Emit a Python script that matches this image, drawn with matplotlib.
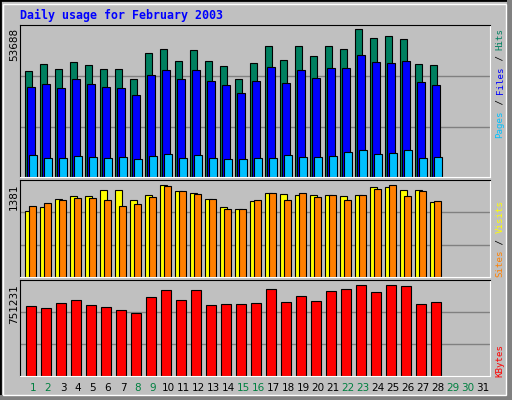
import matplotlib
matplotlib.use('Agg')
import matplotlib.pyplot as plt
from matplotlib.patches import Rectangle
import numpy as np

# Daily values for February 2003
days = list(range(1, 29))
hits = [37690, 40170, 38390, 40880, 39820, 38390, 38390, 34840, 44080, 45500, 41240, 45150, 41240, 39460,
        34840, 40530, 46570, 41590, 46570, 43020, 46570, 45500, 52610, 49410, 50120, 49060, 40170, 39820]
files = [32000, 33060, 31640, 34840, 33060, 32000, 31640, 29150, 36260, 38040, 34840, 38040, 34130, 32710,
         29860, 34130, 39100, 33420, 38040, 35190, 38750, 38750, 43370, 40880, 40530, 41240, 33770, 32710]
pages = [7820, 6750, 6750, 7470, 7110, 6750, 7110, 6400, 7470, 8180, 6750, 7820, 6750, 6400,
         6400, 6750, 6750, 7820, 7110, 7110, 7470, 8890, 9600, 8180, 8530, 9600, 6750, 7110]
visits = [945, 1003, 1116, 1149, 1149, 1245, 1245, 1102, 1163, 1316, 1230, 1202, 1116, 1003,
          974, 1088, 1202, 1188, 1173, 1163, 1163, 1159, 1173, 1287, 1287, 1245, 1245, 1074]
sites = [1017, 1059, 1102, 1131, 1131, 1102, 1017, 1045, 1145, 1302, 1230, 1188, 1116, 974,
         974, 1102, 1202, 1102, 1202, 1145, 1173, 1102, 1173, 1259, 1316, 1159, 1230, 1088]
kbytes = [552600, 536900, 576200, 599700, 560500, 544800, 521200, 497700, 623300, 678200, 599700, 678200,
          560500, 568300, 568300, 576200, 686100, 584000, 631100, 591900, 670400, 686100, 717500, 662500,
          717500, 709600, 568300, 584000]
weekend = [1, 2, 8, 9, 15, 16, 22, 23, 29, 30]
max_hits, max_visits, max_kb = 53688, 1381, 751231

W, H = 512, 400
BG = '#C0C0C0'
fig = plt.figure(figsize=(W / 100, H / 100), dpi=100, facecolor=BG)
mono = 'DejaVu Sans Mono'

def px_axes(x0, y0, x1, y1):
    return fig.add_axes([x0 / W, 1 - y1 / H, (x1 - x0) / W, (y1 - y0) / H])

# outer frame
fig.patches.append(Rectangle((0, 0), 1, 1, transform=fig.transFigure, fill=False, ec='black', lw=2))
fig.patches.append(Rectangle((1 - 5 / W, 0), 5 / W, 1, transform=fig.transFigure, fc='#808080', ec='none'))
fig.patches.append(Rectangle((0, 0), 1, 5 / H, transform=fig.transFigure, fc='#808080', ec='none'))
fig.patches.append(Rectangle((3 / W, 5 / H), 1 - 9 / W, 1 - 9 / H, transform=fig.transFigure,
                             fill=False, ec='white', lw=1))

fig.text(20 / W, 1 - 15 / H, 'Daily usage for February 2003', color='#0000FF', family=mono,
         weight='bold', fontsize=8.4, va='center', ha='left')

x = np.array(days)
XL = (0.267, 31.6)

def setup(ax, top):
    ax.set_facecolor(BG)
    ax.set_xlim(*XL)
    ax.set_ylim(0, top)
    ax.set_xticks([])
    ax.set_yticks([])
    for s in ('left', 'top'):
        ax.spines[s].set_color('black')
    for s in ('right', 'bottom'):
        ax.spines[s].set_color('white')

def grid(ax, mx):
    for f in (1 / 3, 2 / 3):
        ax.axhline(mx * f, color='#808080', lw=1, zorder=0)

bar_kw = dict(align='edge', edgecolor='black', linewidth=0.8, zorder=2)

ax1 = px_axes(20, 25, 490, 177)
setup(ax1, max_hits * 152 / 151)
grid(ax1, max_hits)
ax1.bar(x - 0.38, hits, 0.47, color='#008060', **bar_kw)
ax1.bar(x - 0.27, files, 0.51, color='#0000FF', **bar_kw)
ax1.bar(x - 0.13, pages, 0.51, color='#00C0FF', **bar_kw)

ax2 = px_axes(20, 180, 490, 277)
setup(ax2, max_visits)
grid(ax2, max_visits)
ax2.bar(x - 0.38, visits, 0.47, color='#FFFF00', **bar_kw)
ax2.bar(x - 0.11, sites, 0.47, color='#FF8000', **bar_kw)

ax3 = px_axes(20, 280, 490, 376)
setup(ax3, max_kb * 96 / 95.7)
grid(ax3, max_kb)
ax3.bar(x - 0.31, kbytes, 0.67, color='#FF0000', **bar_kw)

# max value labels on the left
for val, ytop in ((max_hits, 28), (max_visits, 183), (max_kb, 284)):
    fig.text(14 / W, 1 - ytop / H, str(val), rotation=90, ha='center', va='top', fontsize=7.5, color='black')

# right side legends, drawn piece by piece upward
def side_label(parts, ybottom):
    cw = 5.5
    y = ybottom
    for txt, col in parts:
        fig.text(500 / W, 1 - y / H, txt, rotation=90, ha='center', va='bottom', family=mono,
                 fontsize=6.6, color=col)
        y -= cw * len(txt)

side_label([('Pages', '#00C0FF'), (' / ', 'black'), ('Files', '#0000FF'), (' / ', 'black'),
            ('Hits', '#008060')], 138)
side_label([('Sites', '#FF8000'), (' / ', 'black'), ('Visits', '#FFFF00')], 277)
side_label([('KBytes', '#FF0000')], 377)

# day labels
for d in range(1, 32):
    xp = 33 + 15 * (d - 1)
    fig.text(xp / W, 1 - 388 / H, str(d), ha='center', va='center', fontsize=7.5,
             color='#008040' if d in weekend else 'black')

fig.savefig('out.png', dpi=100, facecolor=BG)
